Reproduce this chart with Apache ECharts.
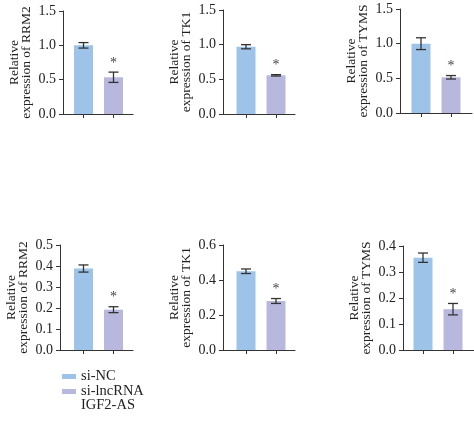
<!DOCTYPE html>
<html>
<head>
<meta charset="utf-8">
<script src="https://cdn.jsdelivr.net/npm/echarts@6/dist/echarts.min.js"></script>
<style>html,body{margin:0;padding:0;background:#fff;}#c{width:474px;height:421px;}</style>
</head>
<body>
<div id="c"></div>
<script>
const groups = ['si-NC', 'si-lncRNA\nIGF2-AS'];
const genes = ['RRM2', 'TK1', 'TYMS', 'RRM2', 'TK1', 'TYMS'];
const yMax = [1.5, 1.5, 1.5, 0.5, 0.6, 0.4];
const yInterval = [0.5, 0.5, 0.5, 0.1, 0.2, 0.1];
const meanNC = [1.0, 0.97, 1.0, 0.388, 0.45, 0.355];
const meanKD = [0.535, 0.558, 0.515, 0.192, 0.28, 0.157];
const sdNC = [0.04, 0.03, 0.085, 0.017, 0.013, 0.018];
const sdKD = [0.075, 0.01, 0.025, 0.014, 0.014, 0.022];
const significantKD = [1, 1, 1, 1, 1, 1];

const colors = ['#9dc3e8', '#b8b8de'];
const font = 'Liberation Serif';
// layout: [left, top, width, height, firstBarOffsetPx]
const layout = [
  [63, 11, 70, 103, 20.5],
  [223, 10, 72, 104, 23],
  [400, 9, 72, 104, 21],
  [60, 245, 73, 105, 23.5],
  [223, 245, 72, 105, 23],
  [403, 246, 71, 104, 20]
];
const unitPx = 30;

const chart = echarts.init(document.getElementById('c'));
const grid = [], xAxis = [], yAxis = [], series = [];
layout.forEach((g, i) => {
  grid.push({left: g[0], top: g[1], width: g[2], height: g[3]});
  xAxis.push({
    type: 'value', gridIndex: i,
    min: -g[4] / unitPx, max: (g[2] - g[4]) / unitPx,
    axisLine: {show: true, onZero: false, lineStyle: {color: '#333', width: 1}},
    axisTick: {show: true, customValues: [0, 1], length: 4, lineStyle: {color: '#333'}},
    axisLabel: {show: false},
    splitLine: {show: false}
  });
  yAxis.push({
    type: 'value', gridIndex: i, min: 0, max: yMax[i], interval: yInterval[i],
    name: 'Relative\nexpression of ' + genes[i],
    nameLocation: 'middle', nameRotate: 90, nameGap: 31,
    nameTextStyle: {fontFamily: font, fontSize: 13.5, color: '#222', lineHeight: 11.5},
    axisLine: {show: true, onZero: false, lineStyle: {color: '#333', width: 1}},
    axisTick: {show: true, length: 4, lineStyle: {color: '#333'}},
    axisLabel: {fontFamily: font, fontSize: 14, color: '#222', margin: 7,
      formatter: v => v.toFixed(1)},
    splitLine: {show: false}
  });
  series.push({
    type: 'bar', name: groups[0], xAxisIndex: i, yAxisIndex: i,
    barWidth: 19, barGap: '-100%', itemStyle: {color: colors[0]},
    data: [[0, meanNC[i]]]
  });
  series.push({
    type: 'bar', name: groups[1], xAxisIndex: i, yAxisIndex: i,
    barWidth: 19, barGap: '-100%', itemStyle: {color: colors[1]},
    data: [[1, meanKD[i]]]
  });
  series.push({
    type: 'custom', xAxisIndex: i, yAxisIndex: i, z: 5, silent: true,
    data: [[0, meanNC[i], sdNC[i], 0], [1, meanKD[i], sdKD[i], significantKD[i]]],
    renderItem: function (params, api) {
      const x = api.value(0), m = api.value(1), e = api.value(2), s = api.value(3);
      const top = api.coord([x, m + e]);
      const bot = api.coord([x, m - e]);
      const cw = 5;
      const st = {stroke: '#333', lineWidth: 1.3};
      const children = [
        {type: 'line', shape: {x1: top[0], y1: top[1], x2: bot[0], y2: bot[1]}, style: st},
        {type: 'line', shape: {x1: top[0] - cw, y1: top[1], x2: top[0] + cw, y2: top[1]}, style: st},
        {type: 'line', shape: {x1: bot[0] - cw, y1: bot[1], x2: bot[0] + cw, y2: bot[1]}, style: st}
      ];
      if (s) {
        children.push({type: 'text', x: top[0], y: top[1] - 2,
          style: {text: '*', fontFamily: font, fontSize: 14, fill: '#444',
            align: 'center', verticalAlign: 'bottom'}});
      }
      return {type: 'group', children: children};
    }
  });
});

chart.setOption({
  animation: false,
  grid: grid, xAxis: xAxis, yAxis: yAxis, series: series,
  legend: {
    orient: 'vertical', left: 62, top: 369, height: 100, itemWidth: 14, itemHeight: 5, itemGap: -14,
    icon: 'rect', padding: 0,
    textStyle: {fontFamily: font, fontSize: 14.5, color: '#222', lineHeight: 14},
    formatter: name => name.indexOf('\n') >= 0 ? '\n' + name : name,
    data: [groups[0], groups[1]]
  }
});
</script>
</body>
</html>
